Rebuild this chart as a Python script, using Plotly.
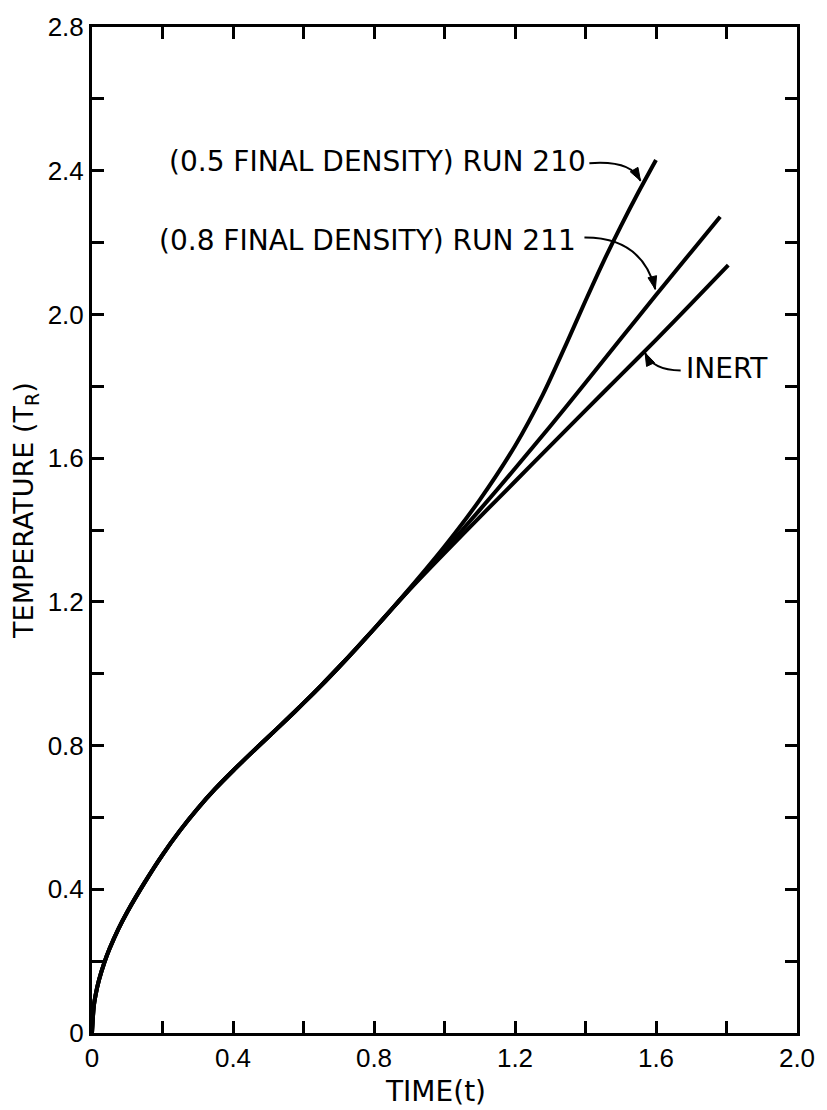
import math
import plotly.graph_objects as go

# Shared early-time heating curve (all runs coincide up to t ~ 0.85)
common_t = [0, 0.005, 0.01, 0.02, 0.035, 0.05, 0.075, 0.1, 0.15, 0.2, 0.25, 0.3, 0.35, 0.4, 0.45,
            0.5, 0.55, 0.6, 0.65, 0.7, 0.75, 0.8, 0.85]
common_T = [0, 0.074, 0.105, 0.148, 0.196, 0.235, 0.29, 0.337, 0.42, 0.496, 0.564, 0.625, 0.68, 0.73, 0.7775,
            0.824, 0.8705, 0.918, 0.967, 1.018, 1.0705, 1.1245, 1.1795]

# Late-time branches
inert_t = [0.9, 1.0, 1.1, 1.2, 1.3, 1.4, 1.5, 1.6, 1.7, 1.805]
inert_T = [1.2335, 1.336, 1.436, 1.535, 1.634, 1.733, 1.831, 1.929, 2.03, 2.137]

run211_t = [0.9, 1.0, 1.1, 1.2, 1.3, 1.4, 1.5, 1.6, 1.7, 1.782]
run211_T = [1.234, 1.344, 1.456, 1.571, 1.689, 1.81, 1.932, 2.054, 2.174, 2.272]

run210_t = [0.9, 1.0, 1.1, 1.2, 1.279, 1.35, 1.4, 1.45, 1.5, 1.55, 1.6]
run210_T = [1.236, 1.354, 1.484, 1.634, 1.777, 1.928, 2.038, 2.145, 2.245, 2.34, 2.43]

x_tickvals = [0, 0.4, 0.8, 1.2, 1.6, 2.0]
x_ticktext = ["0", "0.4", "0.8", "1.2", "1.6", "2.0"]
y_tickvals = [0, 0.4, 0.8, 1.2, 1.6, 2.0, 2.4, 2.8]
y_ticktext = ["0", "0.4", "0.8", "1.2", "1.6", "2.0", "2.4", "2.8"]
minor_step = 0.2

TICK_FONT = "Liberation Sans"
TEXT_FONT = "DejaVu Sans"
INK = "black"
LW = 4

# plot-area pixel scale, used to shape the arrowheads
W_PX, H_PX = 716, 1013
X_RANGE, Y_RANGE = (0, 2.0), (0, 2.8)
SX = W_PX / (X_RANGE[1] - X_RANGE[0])
SY = H_PX / (Y_RANGE[1] - Y_RANGE[0])

fig = go.Figure()
for bt, bT in [(inert_t, inert_T), (run211_t, run211_T), (run210_t, run210_T)]:
    fig.add_trace(go.Scatter(
        x=common_t + bt, y=common_T + bT, mode="lines",
        line=dict(color=INK, width=LW, shape="spline", smoothing=0.8),
        showlegend=False, hoverinfo="skip"))

# Curved leader lines from the labels to the curves: (start, control, tip, arrow tail)
leaders = [
    ((1.411, 2.421), (1.53, 2.43), (1.556, 2.372), (1.538, 2.403)),
    ((1.397, 2.214), (1.56, 2.215), (1.598, 2.07), (1.587, 2.115)),
    ((1.670, 1.844), (1.59, 1.845), (1.569, 1.893), (1.582, 1.866)),
]


def arrow_head(tip, tail, length=13, half=4.5):
    dx = (tip[0] - tail[0]) * SX
    dy = (tip[1] - tail[1]) * SY
    d = math.hypot(dx, dy)
    ux, uy = dx / d, dy / d
    nx, ny = -uy, ux
    bx, by = -ux * length, -uy * length
    pts = [(0, 0), (bx + nx * half, by + ny * half), (bx - nx * half, by - ny * half)]
    pts = [(tip[0] + px / SX, tip[1] + py / SY) for px, py in pts]
    return "M {} {} L {} {} L {} {} Z".format(*[c for p in pts for c in p])


for start, ctrl, tip, tail in leaders:
    fig.add_shape(type="path", xref="x", yref="y",
                  path=f"M {start[0]} {start[1]} Q {ctrl[0]} {ctrl[1]} {tip[0]} {tip[1]}",
                  line=dict(color=INK, width=2))
    fig.add_shape(type="path", xref="x", yref="y", path=arrow_head(tip, tail),
                  line=dict(color=INK, width=1), fillcolor=INK)

labels = [
    dict(x=1.408, y=2.427, text="(0.5 FINAL DENSITY) RUN 210", xanchor="right"),
    dict(x=1.378, y=2.205, text="(0.8 FINAL DENSITY) RUN 211", xanchor="right"),
    dict(x=1.678, y=1.849, text="INERT", xanchor="left"),
]
for lab in labels:
    fig.add_annotation(x=lab["x"], y=lab["y"], text=lab["text"], xref="x", yref="y",
                       xanchor=lab["xanchor"], yanchor="middle", showarrow=False,
                       font=dict(family=TEXT_FONT, size=28, color=INK))

# Axis titles
fig.add_annotation(x=0.4874, y=-0.058, xref="paper", yref="paper",
                   text="TIME(t)", showarrow=False, xanchor="center", yanchor="middle",
                   font=dict(family=TEXT_FONT, size=28, color=INK))
fig.add_annotation(x=-0.0936, y=0.519, xref="paper", yref="paper",
                   text="TEMPERATURE (T<sub>R</sub>)", textangle=-90, showarrow=False,
                   xanchor="center", yanchor="middle",
                   font=dict(family=TEXT_FONT, size=27, color=INK))

axis_common = dict(showgrid=False, zeroline=False, showline=True, linecolor=INK,
                   linewidth=3, mirror="ticks", ticks="inside", ticklen=12,
                   tickwidth=3, tickcolor=INK, tickmode="array",
                   minor=dict(ticks="inside", ticklen=12, tickwidth=3, tickcolor=INK,
                              dtick=minor_step, tick0=0, showgrid=False),
                   tickfont=dict(family=TICK_FONT, size=26, color=INK))

fig.update_layout(
    width=827, height=1110,
    margin=dict(l=92, r=19, t=20, b=77),
    paper_bgcolor="white", plot_bgcolor="white",
    xaxis=dict(range=list(X_RANGE), tickvals=x_tickvals, ticktext=x_ticktext, **axis_common),
    yaxis=dict(range=list(Y_RANGE), tickvals=y_tickvals, ticktext=y_ticktext, **axis_common),
)

fig.write_html("out.html")
